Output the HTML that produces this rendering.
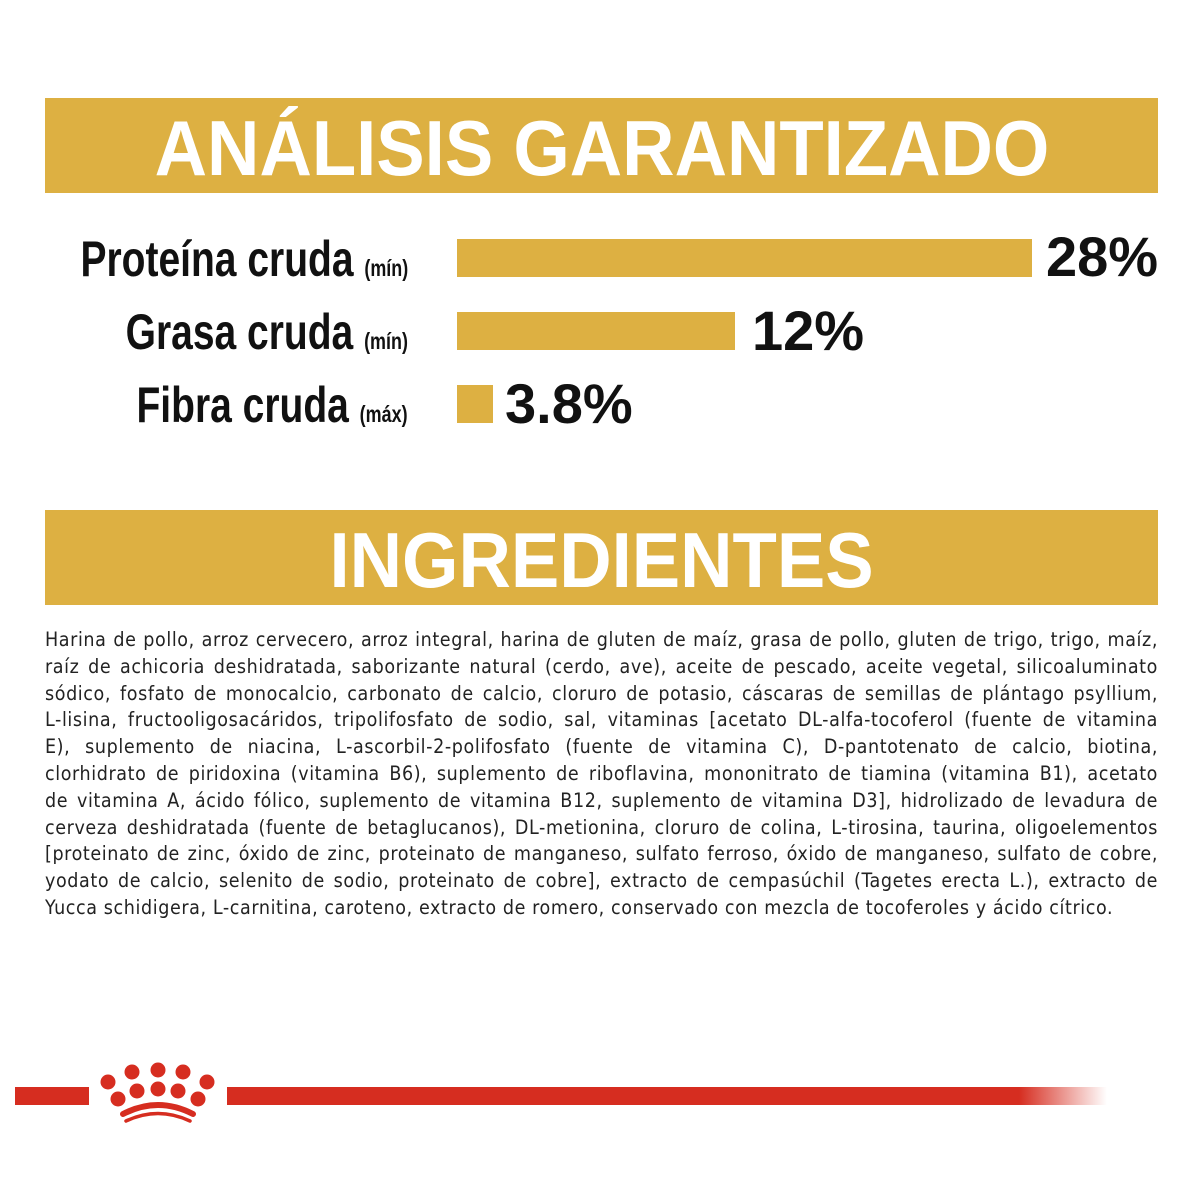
<!DOCTYPE html>
<html><head><meta charset="utf-8"><style>
*{margin:0;padding:0}
body{width:1200px;height:1200px;background:#fff;position:relative;overflow:hidden;font-family:"Liberation Sans",sans-serif}
.ban{position:absolute;left:45px;width:1113px;height:95px;background:#ddb042;color:#fff;font-weight:bold;font-size:78px;text-align:center;line-height:100px}
.ban span{display:inline-block;transform:scaleX(0.93)}
.lab{position:absolute;right:792px;font-weight:bold;font-size:50px;color:#111;white-space:nowrap;transform:scaleX(0.78);transform-origin:right center}
.lab small{font-size:23px}
.bar{position:absolute;left:457px;height:38px;background:#ddb042}
.val{position:absolute;font-weight:bold;font-size:56px;color:#111}
.txt{position:absolute;left:45px;width:1113px;top:627px;font-size:19.5px;letter-spacing:0.6px;line-height:26.8px;color:#222;font-family:"DejaVu Sans Condensed","Liberation Sans",sans-serif}
.txt div{text-align:justify;text-align-last:justify;white-space:nowrap}
.txt div.l{text-align-last:left}
</style></head><body>
<div class="ban" style="top:98px"><span>ANÁLISIS GARANTIZADO</span></div>
<div class="lab" style="top:230px">Proteína cruda <small>(mín)</small></div>
<div class="lab" style="top:303px">Grasa cruda <small>(mín)</small></div>
<div class="lab" style="top:376px">Fibra cruda <small>(máx)</small></div>
<div class="bar" style="top:239px;width:575px"></div>
<div class="bar" style="top:312px;width:278px"></div>
<div class="bar" style="top:385px;width:36px"></div>
<div class="val" style="left:1046px;top:224px">28%</div>
<div class="val" style="left:752px;top:298px">12%</div>
<div class="val" style="left:505px;top:371px">3.8%</div>
<div class="ban" style="top:510px"><span>INGREDIENTES</span></div>
<div class="txt">
<div>Harina de pollo, arroz cervecero, arroz integral, harina de gluten de maíz, grasa de pollo, gluten de trigo, trigo, maíz,</div>
<div>raíz de achicoria deshidratada, saborizante natural (cerdo, ave), aceite de pescado, aceite vegetal, silicoaluminato</div>
<div>sódico, fosfato de monocalcio, carbonato de calcio, cloruro de potasio, cáscaras de semillas de plántago psyllium,</div>
<div>L-lisina, fructooligosacáridos, tripolifosfato de sodio, sal, vitaminas [acetato DL-alfa-tocoferol (fuente de vitamina</div>
<div>E), suplemento de niacina, L-ascorbil-2-polifosfato (fuente de vitamina C), D-pantotenato de calcio, biotina,</div>
<div>clorhidrato de piridoxina (vitamina B6), suplemento de riboflavina, mononitrato de tiamina (vitamina B1), acetato</div>
<div>de vitamina A, ácido fólico, suplemento de vitamina B12, suplemento de vitamina D3], hidrolizado de levadura de</div>
<div>cerveza deshidratada (fuente de betaglucanos), DL-metionina, cloruro de colina, L-tirosina, taurina, oligoelementos</div>
<div>[proteinato de zinc, óxido de zinc, proteinato de manganeso, sulfato ferroso, óxido de manganeso, sulfato de cobre,</div>
<div>yodato de calcio, selenito de sodio, proteinato de cobre], extracto de cempasúchil (Tagetes erecta L.), extracto de</div>
<div class="l">Yucca schidigera, L-carnitina, caroteno, extracto de romero, conservado con mezcla de tocoferoles y ácido cítrico.</div>
</div>
<svg style="position:absolute;left:0;top:1040px" width="1200" height="100">
<defs><linearGradient id="g" x1="0" x2="1"><stop offset="0.9" stop-color="#d62d20"/><stop offset="1" stop-color="#d62d20" stop-opacity="0"/></linearGradient></defs>
<rect x="15" y="47" width="74" height="18" fill="#d62d20"/>
<rect x="227" y="47" width="880" height="18" fill="url(#g)"/>
<g fill="#d62d20">
<circle cx="108" cy="42" r="7.5"/><circle cx="132" cy="32" r="7.5"/><circle cx="158" cy="30" r="7.5"/><circle cx="183" cy="32" r="7.5"/><circle cx="207" cy="42" r="7.5"/>
<circle cx="118" cy="59" r="7.5"/><circle cx="137" cy="51" r="7.5"/><circle cx="158" cy="49" r="7.5"/><circle cx="178" cy="51" r="7.5"/><circle cx="198" cy="59" r="7.5"/>
</g>
<path d="M123 74 Q158 56 193 74" stroke="#d62d20" stroke-width="6" fill="none" stroke-linecap="round"/>
<path d="M126 81 Q158 66 190 81" stroke="#d62d20" stroke-width="3.5" fill="none" stroke-linecap="round"/>
</svg>
</body></html>
